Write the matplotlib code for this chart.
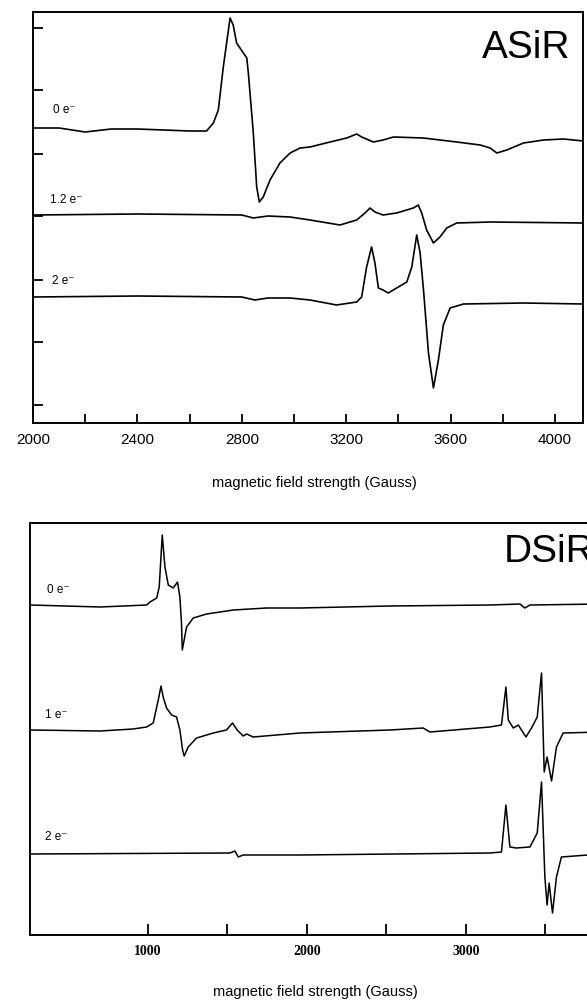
import numpy as np
import matplotlib
matplotlib.use("Agg")
from matplotlib import pyplot as plt

plt.rcParams['font.family'] = ['Liberation Sans', 'DejaVu Sans']

# ASiR spectra (field in Gauss, signal in a.u. incl. stacking offset)
asir_0e_field = [2000, 2100, 2200, 2300, 2400, 2500, 2600, 2665, 2691, 2710, 2729, 2755, 2767, 2780,
                 2806, 2819, 2825, 2844, 2857, 2867, 2882, 2908, 2946, 2985, 3023, 3061, 3138, 3202,
                 3240, 3259, 3304, 3341, 3381, 3496, 3623, 3713, 3751, 3777, 3815, 3879, 3956, 4032, 4109]
asir_0e_signal = [295, 295, 291, 294, 294, 293, 292, 292, 300, 313, 356, 405, 398, 380,
                  370, 365, 350, 290, 236, 221, 226, 243, 260, 270, 275, 276, 281, 285,
                  289, 286, 281, 283, 286, 285, 281, 278, 275, 270, 273, 280, 283, 284, 282]

asir_12e_field = [2000, 2400, 2800, 2844, 2900, 2985, 3061, 3176, 3240, 3272, 3291, 3310, 3341, 3393,
                  3457, 3476, 3489, 3508, 3534, 3559, 3585, 3623, 3751, 4109]
asir_12e_signal = [208, 209, 208, 205, 207, 206, 203, 198, 203, 210, 215, 211, 208, 210,
                   215, 218, 210, 193, 180, 186, 195, 200, 201, 200]

asir_2e_field = [2000, 2400, 2800, 2850, 2900, 2985, 3061, 3163, 3240, 3259, 3278, 3297, 3310, 3323,
                 3341, 3361, 3393, 3432, 3451, 3470, 3483, 3496, 3515, 3534, 3553, 3572, 3598, 3649,
                 3879, 4109]
asir_2e_signal = [126, 127, 126, 123, 125, 125, 123, 118, 121, 126, 156, 176, 160, 135,
                  133, 130, 135, 141, 156, 188, 170, 133, 70, 35, 63, 98, 115, 119,
                  120, 119]

# DSiR spectra
dsir_0e_field = [258, 700, 992, 1013, 1055, 1071, 1090, 1107, 1128, 1159, 1186, 1201, 1211, 1216,
                 1243, 1285, 1369, 1537, 1746, 1956, 2522, 3151, 3340, 3371, 3403, 3850]
dsir_0e_signal = [330, 328, 330, 333, 337, 348, 400, 368, 350, 347, 353, 338, 312, 285,
                  308, 317, 321, 325, 327, 327, 329, 330, 331, 327, 330, 331]

dsir_1e_field = [258, 700, 906, 992, 1033, 1065, 1082, 1096, 1117, 1149, 1180, 1201, 1218, 1228,
                 1253, 1306, 1411, 1494, 1532, 1561, 1599, 1621, 1662, 1956, 2522, 2731, 2774, 3151,
                 3224, 3252, 3267, 3298, 3330, 3378, 3413, 3449, 3476, 3493, 3511, 3539, 3570, 3612,
                 3850]
dsir_1e_signal = [205, 204, 206, 208, 212, 235, 249, 238, 227, 220, 218, 205, 185, 179,
                  188, 197, 202, 205, 212, 205, 199, 201, 198, 202, 205, 207, 203, 208,
                  210, 248, 215, 207, 210, 198, 207, 218, 262, 163, 178, 154, 188, 202,
                  203]

dsir_2e_field = [258, 1516, 1547, 1568, 1599, 1956, 3151, 3224, 3252, 3277, 3315, 3403, 3449, 3476,
                 3497, 3511, 3524, 3545, 3570, 3601, 3850]
dsir_2e_signal = [81, 82, 84, 78, 80, 80, 82, 83, 130, 88, 87, 88, 102, 153,
                  58, 30, 52, 22, 58, 78, 81]

asir_labels = ['0 e\u207b', '1.2 e\u207b', '2 e\u207b']
dsir_labels = ['0 e\u207b', '1 e\u207b', '2 e\u207b']


def style_axes(ax, lw=1.4):
    for s in ax.spines.values():
        s.set_linewidth(lw)
    ax.tick_params(which='both', direction='in', width=1.3)


fig = plt.figure(figsize=(5.87, 10), dpi=100)

# top panel
ax1 = fig.add_axes([0.0562, 0.577, 0.937, 0.411])
ax1.plot(asir_0e_field, asir_0e_signal, color='black', lw=1.2)
ax1.plot(asir_12e_field, asir_12e_signal, color='black', lw=1.2)
ax1.plot(asir_2e_field, asir_2e_signal, color='black', lw=1.2)
ax1.set_xlim(2000, 4107)
ax1.set_ylim(0, 411)
ax1.set_xticks(np.arange(2000, 4001, 400))
ax1.set_xticks(np.arange(2200, 4000, 400), minor=True)
ax1.set_yticks([18, 81, 143, 207, 269, 333, 395])
ax1.set_yticklabels([])
style_axes(ax1)
ax1.tick_params(axis='x', which='both', length=6.5, pad=7, labelsize=11)
ax1.tick_params(axis='y', length=7)
for lab, (x, y) in zip(asir_labels, [(2077, 313), (2065, 223), (2073, 142)]):
    ax1.text(x, y, lab, fontsize=8.5, va='center', ha='left')
fig.text(482 / 587, 1 - 58 / 1000, 'ASiR', fontsize=28, ha='left', va='baseline')
fig.text(314 / 587, 1 - 483 / 1000, 'magnetic field strength (Gauss)', fontsize=10.5,
         ha='center', va='center')

# bottom panel
ax2 = fig.add_axes([0.0511, 0.065, 0.9727, 0.412])
ax2.plot(dsir_0e_field, dsir_0e_signal, color='black', lw=1.1)
ax2.plot(dsir_1e_field, dsir_1e_signal, color='black', lw=1.1)
ax2.plot(dsir_2e_field, dsir_2e_signal, color='black', lw=1.1)
ax2.set_xlim(258, 3850)
ax2.set_ylim(0, 412)
ax2.set_xticks([1000, 2000, 3000])
ax2.set_xticks([1500, 2500, 3500], minor=True)
ax2.set_yticks([])
style_axes(ax2)
ax2.tick_params(axis='x', which='both', length=8, pad=7)
for t in ax2.get_xticklabels():
    t.set_fontfamily(['Liberation Serif', 'DejaVu Serif'])
    t.set_fontweight('bold')
    t.set_fontsize(10)
for lab, (x, y) in zip(dsir_labels, [(366, 345), (354, 220), (354, 98)]):
    ax2.text(x, y, lab, fontsize=8.5, va='center', ha='left')
# label runs off the right edge, as in the scanned original
fig.text(504 / 587, 1 - 562 / 1000, 'DSiR', fontsize=28, ha='left', va='baseline')
fig.text(315 / 587, 1 - 992 / 1000, 'magnetic field strength (Gauss)', fontsize=10.5,
         ha='center', va='center')

fig.savefig('out.png', dpi=100)
